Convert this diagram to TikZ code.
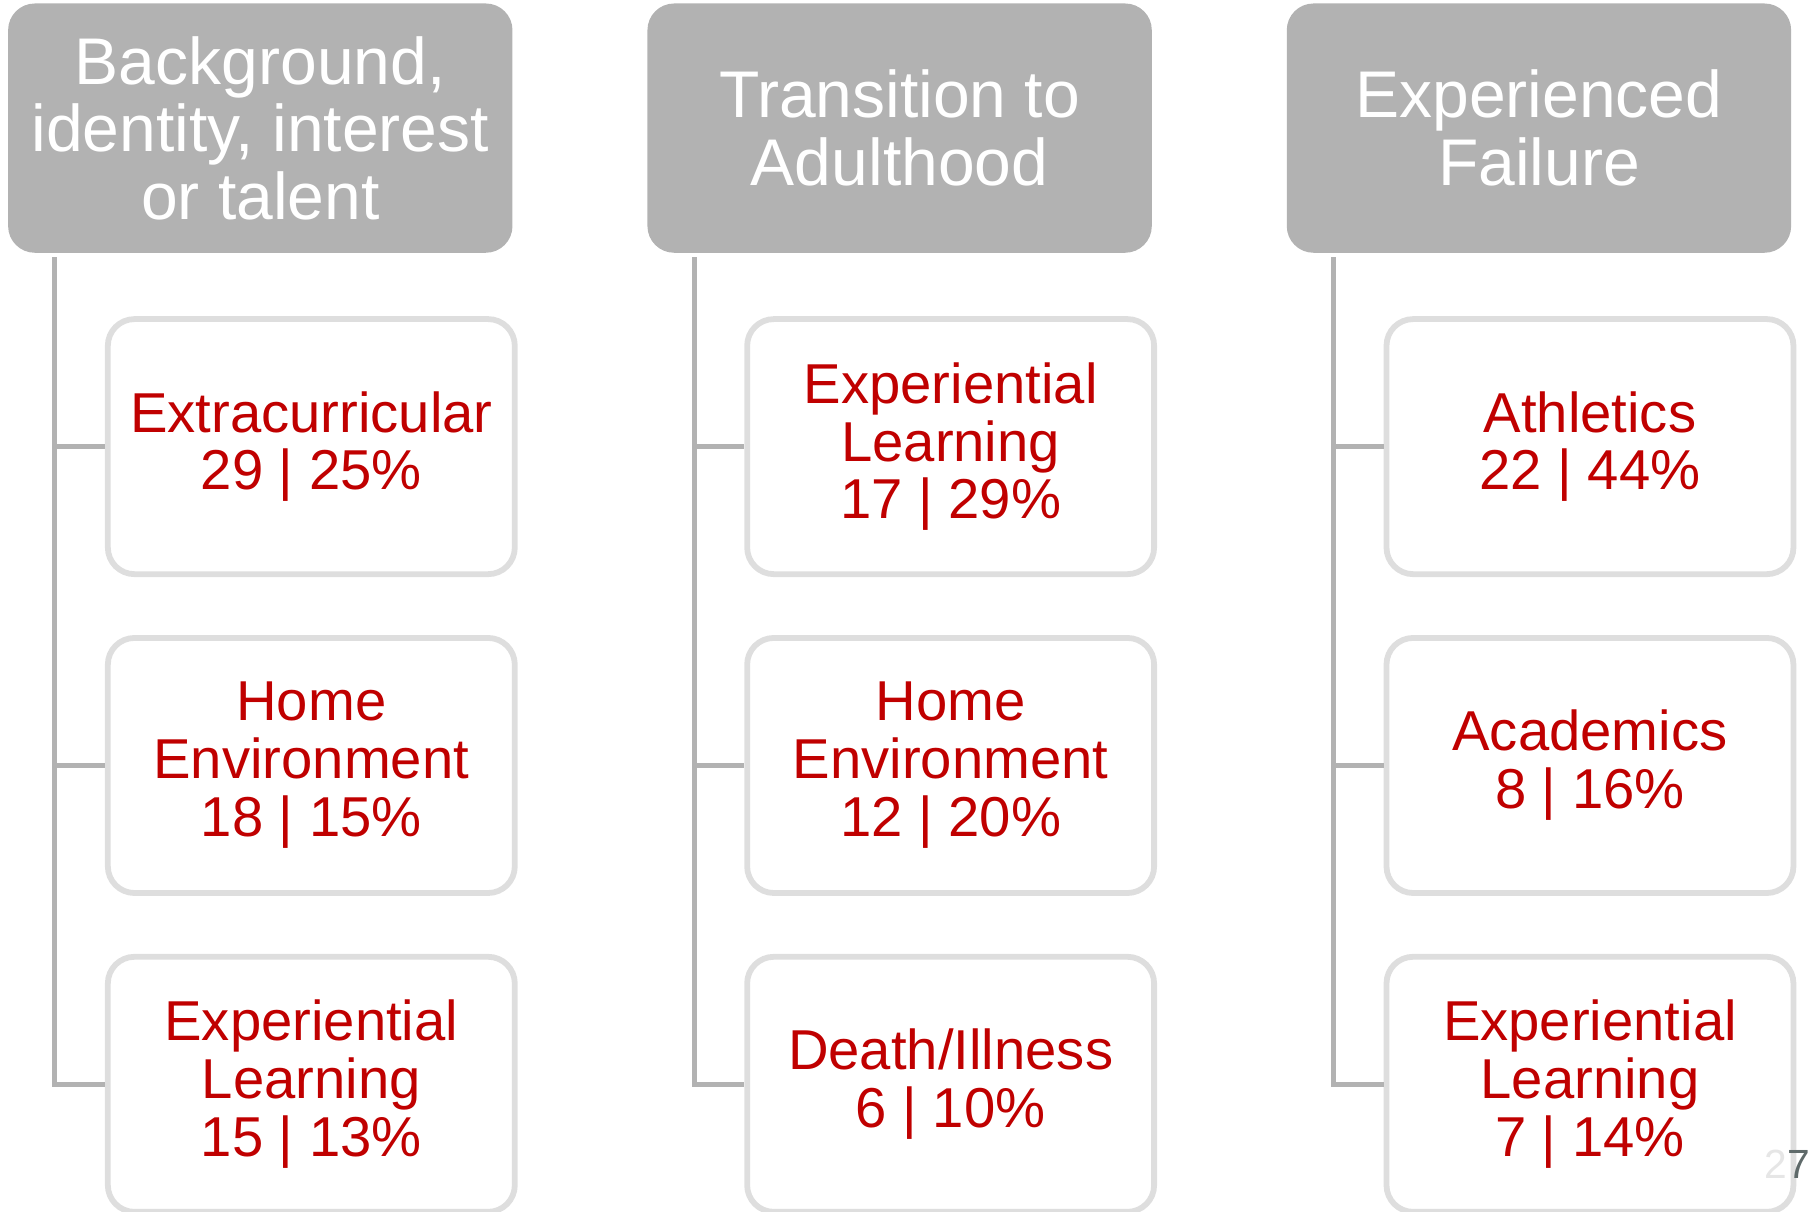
\documentclass[tikz,border=0pt]{standalone}
\usepackage{fontspec}
\setmainfont{Liberation Sans}
\usetikzlibrary{positioning}
\definecolor{headgray}{HTML}{B2B2B2}
\definecolor{boxline}{HTML}{DEDEDE}
\definecolor{itemred}{HTML}{C00000}
\definecolor{pnlight}{HTML}{E6E6E6}
\definecolor{pngray}{HTML}{5F6A6A}

\begin{document}
\begin{tikzpicture}[
		node distance=5mm,
		head/.style = {fill=headgray, rounded corners=2.3mm, minimum width=43.5mm, minimum height=21.5mm, inner sep=0pt, align=center, text=white, font=\fontsize{16.2}{16.6}\selectfont},
		item/.style = {draw=boxline, line width=0.5mm, fill=white, rounded corners=2.3mm, minimum width=35.1mm, minimum height=22mm, inner sep=0pt, align=center, text=itemred, font=\fontsize{13.8}{14.2}\selectfont},
		conn/.style = {draw=headgray, line width=0.45mm}
	]
	\useasboundingbox (0,0) rectangle (156.8mm,-104.5mm);
	\clip (0,0) rectangle (156.8mm,-104.5mm);
	% Headers.
	\node[head] (h1) at (22.45mm,-11.05mm) {Background,\\identity, interest\\or talent};
	\node[head, right=11.5mm of h1] (h2) {Transition to\\Adulthood};
	\node[head, right=11.5mm of h2] (h3) {Experienced\\Failure};
	% Column 1.
	\node[item, below=5.4mm of h1, xshift=4.4mm] (a1) {Extracurricular\\29 | 25\%};
	\node[item, below=of a1] (a2) {Home\\Environment\\18 | 15\%};
	\node[item, below=of a2] (a3) {Experiential\\Learning\\15 | 13\%};
	% Column 2.
	\node[item, below=5.4mm of h2, xshift=4.4mm] (b1) {Experiential\\Learning\\17 | 29\%};
	\node[item, below=of b1] (b2) {Home\\Environment\\12 | 20\%};
	\node[item, below=of b2] (b3) {Death/Illness\\6 | 10\%};
	% Column 3.
	\node[item, below=5.4mm of h3, xshift=4.4mm] (c1) {Athletics\\22 | 44\%};
	\node[item, below=of c1] (c2) {Academics\\8 | 16\%};
	\node[item, below=of c2] (c3) {Experiential\\Learning\\7 | 14\%};
	% Slide number.
	\node[anchor=base east, inner sep=0pt, font=\fontsize{10}{12}\selectfont] (pg) at (156.2mm,-101.6mm) {\textcolor{pnlight}{2}\textcolor{pngray}{7}};

	\coordinate (s1) at ([xshift=4.1mm, yshift=-0.3mm]h1.south west);
	\coordinate (s2) at ([xshift=4.1mm, yshift=-0.3mm]h2.south west);
	\coordinate (s3) at ([xshift=4.1mm, yshift=-0.3mm]h3.south west);
	\draw[conn] (s1) |- (a1.west);
	\draw[conn] (s1) |- (a2.west);
	\draw[conn] (s1) |- (a3.west);
	\draw[conn] (s2) |- (b1.west);
	\draw[conn] (s2) |- (b2.west);
	\draw[conn] (s2) |- (b3.west);
	\draw[conn] (s3) |- (c1.west);
	\draw[conn] (s3) |- (c2.west);
	\draw[conn] (s3) |- (c3.west);
\end{tikzpicture}
\end{document}
